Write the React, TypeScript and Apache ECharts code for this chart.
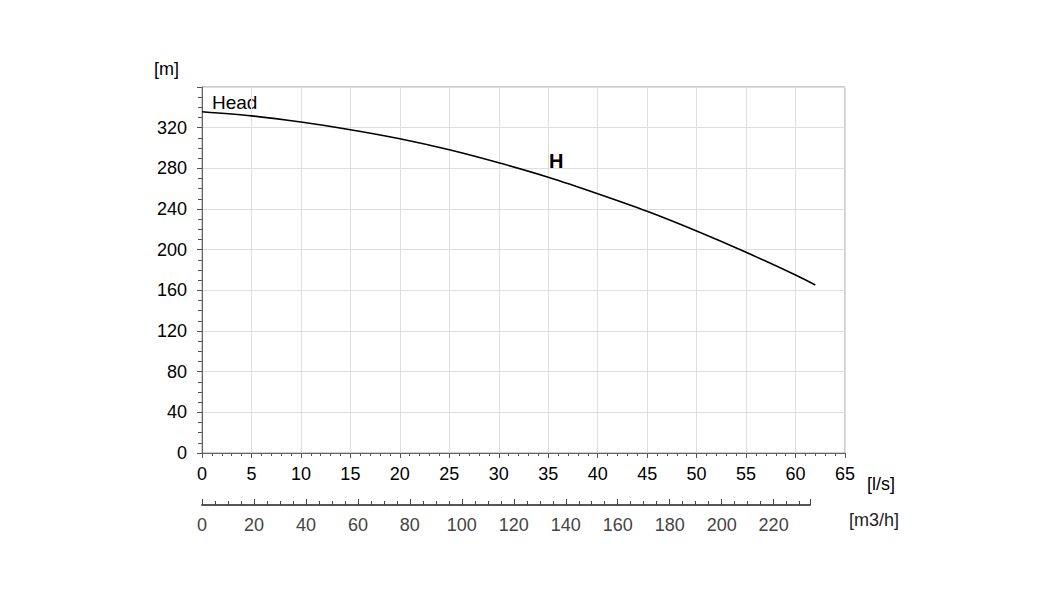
import React, { useEffect, useRef } from "react";
import * as echarts from "echarts";

const flowLs = [0, 5, 10, 15, 20, 25, 30, 35, 40, 45, 50, 55, 60, 62];
const headM = [335.7, 331.6, 325.5, 318.0, 309.1, 298.2, 285.4, 271.2, 255.0, 237.7, 218.3, 197.4, 175.0, 165.2];

const FONT = "'Liberation Sans', Arial, sans-serif";

export default function App() {
  const ref = useRef<HTMLDivElement>(null);
  useEffect(() => {
    if (!ref.current) return;
    const chart = echarts.init(ref.current, null, { renderer: "svg" });
    const data = flowLs.map((x, i) => [x, headM[i]]);
    chart.setOption({
      animation: false,
      backgroundColor: "#ffffff",
      textStyle: { fontFamily: FONT },
      grid: [
        { left: 202, top: 87, width: 643, height: 366, show: true, borderColor: "#999", borderWidth: 1, containLabel: false },
        { left: 202, top: 504, width: 608, height: 1, show: false, containLabel: false },
      ],
      xAxis: [
        {
          gridIndex: 0,
          type: "value",
          min: 0,
          max: 65,
          interval: 5,
          axisLine: { show: true, lineStyle: { color: "#666", width: 1 } },
          axisTick: { show: true, length: 5, lineStyle: { color: "#555" } },
          minorTick: { show: true, splitNumber: 5, length: 3, lineStyle: { color: "#555" } },
          splitLine: { show: true, lineStyle: { color: "#dedede", width: 1 } },
          axisLabel: { color: "#000", fontSize: 18, margin: 12, fontFamily: FONT },
        },
        {
          gridIndex: 1,
          type: "value",
          min: 0,
          max: 234,
          interval: 20,
          position: "bottom",
          axisLine: { show: true, lineStyle: { color: "#555", width: 2 } },
          axisTick: { show: true, inside: true, length: 6, lineStyle: { color: "#444" } },
          minorTick: { show: true, splitNumber: 4, length: 4, lineStyle: { color: "#444" } },
          splitLine: { show: false },
          axisLabel: { color: "#444", fontSize: 18, margin: 11, fontFamily: FONT, showMaxLabel: false },
        },
      ],
      yAxis: [
        {
          gridIndex: 0,
          type: "value",
          min: 0,
          max: 360,
          interval: 40,
          axisLine: { show: true, lineStyle: { color: "#666", width: 1 } },
          axisTick: { show: true, length: 5, lineStyle: { color: "#555" } },
          minorTick: { show: true, splitNumber: 4, length: 4, lineStyle: { color: "#555" } },
          splitLine: { show: true, lineStyle: { color: "#dedede", width: 1 } },
          axisLabel: {
            color: "#000",
            fontSize: 18,
            margin: 15,
            fontFamily: FONT,
            formatter: (v: number) => (v === 360 ? "" : String(v)),
          },
        },
        {
          gridIndex: 1,
          type: "value",
          show: false,
          min: 0,
          max: 1,
        },
      ],
      series: [
        {
          type: "line",
          xAxisIndex: 0,
          yAxisIndex: 0,
          data,
          smooth: 0.3,
          showSymbol: false,
          lineStyle: { color: "#000", width: 1.6 },
        },
      ],
      graphic: [
        { type: "text", left: 154, top: 60, style: { text: "[m]", fontSize: 18, fill: "#000", fontFamily: FONT } },
        { type: "text", left: 212, top: 93, style: { text: "Head", fontSize: 19, fill: "#000", fontFamily: FONT } },
        { type: "text", left: 549, top: 151, style: { text: "H", fontSize: 20, fontWeight: "bold", fill: "#000", fontFamily: FONT } },
        { type: "text", left: 867, top: 475, style: { text: "[l/s]", fontSize: 18, fill: "#000", fontFamily: FONT } },
        { type: "text", left: 849, top: 511, style: { text: "[m3/h]", fontSize: 18, fill: "#222", fontFamily: FONT } },
      ],
    });
    return () => chart.dispose();
  }, []);
  return (
    <div
      ref={ref}
      style={{ position: "absolute", left: 0, top: 0, width: 1052, height: 591, background: "#fff" }}
    />
  );
}
